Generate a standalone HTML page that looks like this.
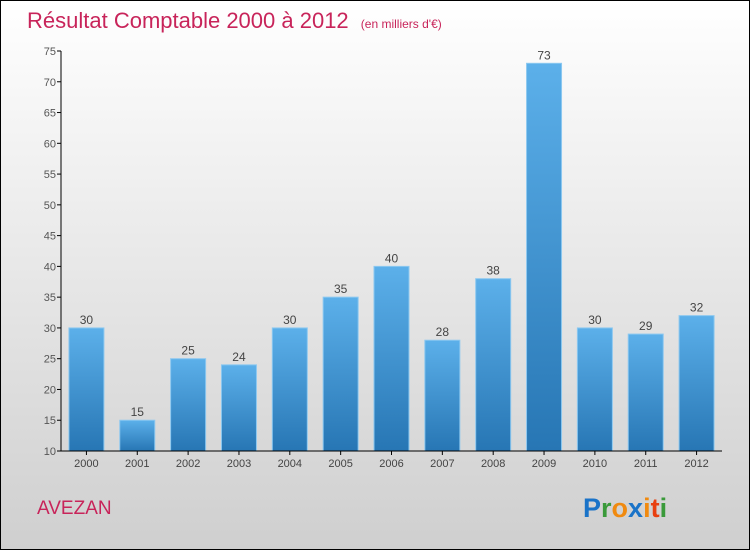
<!DOCTYPE html>
<html><head><meta charset="utf-8"><style>
body{margin:0}
#c{width:750px;height:550px;position:relative;box-sizing:border-box;border:1px solid #000;background:linear-gradient(#ffffff,#cfcfcf);font-family:"Liberation Sans",sans-serif;overflow:hidden}
</style></head><body>
<div id="c">
<svg width="748" height="548" style="position:absolute;left:0;top:0">
<defs><linearGradient id="g" x1="0" y1="0" x2="0" y2="1"><stop offset="0" stop-color="#5cb0ea"/><stop offset="1" stop-color="#2776b4"/></linearGradient></defs>
<text x="26" y="27" font-size="22" fill="#c8245a">Résultat Comptable 2000 à 2012 <tspan font-size="12" dx="6">(en milliers d'€)</tspan></text>
<g id="plot"></g>
<text x="36" y="513" font-size="19" fill="#c8245a">AVEZAN</text>
<text x="582" y="516" font-size="27" font-weight="bold"><tspan fill="#1a73c8">P</tspan><tspan fill="#3a9a3a">r</tspan><tspan fill="#f08a10">o</tspan><tspan fill="#1a73c8">x</tspan><tspan fill="#f08a10">i</tspan><tspan fill="#e84010">t</tspan><tspan fill="#3a9a3a">i</tspan></text>
</svg>
</div>
<script>
const years=["2000","2001","2002","2003","2004","2005","2006","2007","2008","2009","2010","2011","2012"];
const values=[30,15,25,24,30,35,40,28,38,73,30,29,32];
const yTicks=[10,15,20,25,30,35,40,45,50,55,60,65,70,75];
const NS="http://www.w3.org/2000/svg";
const g=document.getElementById('plot');
const x0=60,x1=721,yTop=50,yBot=450,vMin=10,vMax=75;
const y=v=>yBot-(v-vMin)/(vMax-vMin)*(yBot-yTop);
const step=(x1-x0)/years.length;
const xc=i=>x0+step*(i+0.5);
function el(t,a){const e=document.createElementNS(NS,t);for(const k in a)e.setAttribute(k,a[k]);g.appendChild(e);return e;}
yTicks.forEach(v=>{
 const l=el('line',{x1:x0-4,x2:x0,y1:y(v),y2:y(v),stroke:'#000'});
 
 
 const t=el('text',{x:x0-5,y:y(v)+4,'font-size':11,fill:'#555','text-anchor':'end'});
 t.textContent=v;
 
 
});
values.forEach((v,i)=>{
 const r=el('rect',{x:xc(i)-17.5,y:y(v),width:35,height:yBot-y(v),fill:'url(#g)',stroke:'#8cc8f0','stroke-width':1});
 
 
 const t=el('text',{x:xc(i),y:y(v)-4,'font-size':12,fill:'#444','text-anchor':'middle'});
 t.textContent=v;
 
 
 const tk=el('line',{x1:xc(i),x2:xc(i),y1:yBot,y2:yBot+4,stroke:'#000'});
 
 
 const xt=el('text',{x:xc(i),y:yBot+16,'font-size':11,fill:'#444','text-anchor':'middle'});
 xt.textContent=years[i];
 
 
});
const ya=el('line',{x1:x0,x2:x0,y1:yTop,y2:yBot,stroke:'#000'});


const xa=el('line',{x1:x0,x2:x1,y1:yBot,y2:yBot,stroke:'#000'});


</script>
</body></html>
